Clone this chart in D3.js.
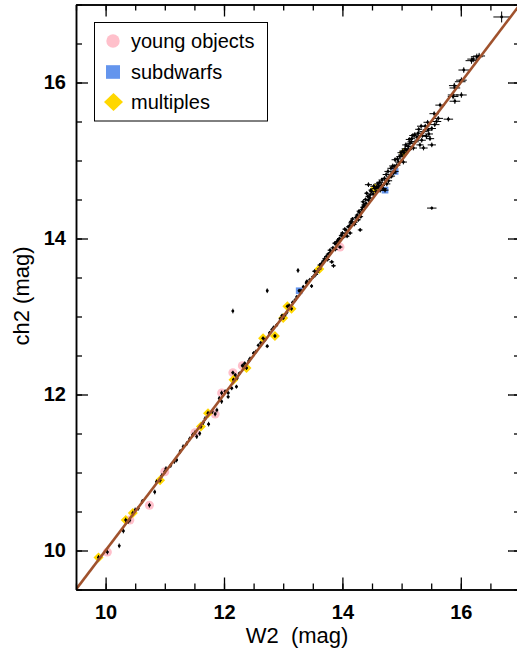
<!DOCTYPE html>
<html>
<head>
<meta charset="utf-8">
<script src="https://cdn.jsdelivr.net/npm/d3@7"></script>
<style>
  html, body { margin: 0; padding: 0; background: #fff; }
  svg { display: block; }
  text { font-family: "Liberation Sans", Arial, Helvetica, sans-serif; fill: #000; }
</style>
</head>
<body>
<svg id="chart" width="517" height="656"></svg>
<script>
// W2 vs ch2 photometry, each row: [W2, ch2, W2 error, ch2 error]
const field = [
  [10.23,10.06,0.02,0.03],[10.30,10.25,0.02,0.03],[10.38,10.37,0.02,0.03],[10.50,10.52,0.02,0.03],
  [10.55,10.54,0.02,0.03],[10.62,10.63,0.02,0.03],[10.83,10.75,0.02,0.03],[10.86,10.88,0.02,0.03],
  [10.95,10.96,0.02,0.03],[11.02,11.05,0.02,0.03],[11.10,11.09,0.02,0.03],[11.16,11.14,0.02,0.03],
  [11.20,11.16,0.02,0.03],[11.26,11.27,0.02,0.03],[11.31,11.33,0.02,0.03],[11.37,11.37,0.02,0.03],
  [11.42,11.43,0.02,0.03],[11.47,11.48,0.02,0.03],[11.54,11.46,0.02,0.03],[11.59,11.50,0.02,0.03],
  [11.65,11.64,0.02,0.03],[11.68,11.69,0.02,0.03],[11.74,11.62,0.02,0.03],[11.80,11.78,0.02,0.03],
  [11.88,11.80,0.02,0.03],[11.92,11.95,0.02,0.03],[11.96,11.91,0.02,0.03],[12.02,12.04,0.025,0.025],
  [12.07,12.02,0.025,0.025],[12.07,11.97,0.025,0.025],[12.13,12.08,0.025,0.025],[12.21,12.10,0.025,0.025],
  [12.19,12.25,0.025,0.025],[12.22,12.21,0.025,0.025],[12.26,12.27,0.025,0.025],[12.32,12.37,0.025,0.025],
  [12.35,12.40,0.025,0.025],[12.42,12.43,0.025,0.025],[12.44,12.46,0.025,0.025],[12.50,12.53,0.025,0.025],
  [12.54,12.55,0.025,0.025],[12.58,12.63,0.025,0.025],[12.62,12.66,0.025,0.025],[12.69,12.70,0.025,0.025],
  [12.73,12.62,0.025,0.025],[12.77,12.79,0.025,0.025],[12.81,12.83,0.025,0.025],[12.84,12.86,0.025,0.025],
  [12.89,12.89,0.025,0.025],[12.95,12.97,0.025,0.025],[12.98,13.01,0.025,0.025],[13.03,13.02,0.025,0.025],
  [13.06,13.05,0.025,0.025],[13.10,13.14,0.025,0.025],[13.16,13.18,0.025,0.025],[13.20,13.21,0.025,0.025],
  [13.23,13.25,0.025,0.025],[13.30,13.33,0.025,0.025],[13.34,13.38,0.025,0.025],[13.39,13.43,0.025,0.025],
  [13.40,13.45,0.025,0.025],[13.45,13.47,0.025,0.025],[13.48,13.39,0.025,0.025],[13.51,13.51,0.04,0.025],
  [13.53,13.58,0.04,0.025],[13.55,13.54,0.04,0.025],[13.57,13.57,0.04,0.025],[13.62,13.66,0.04,0.025],
  [13.65,13.68,0.04,0.025],[13.68,13.71,0.04,0.025],[13.70,13.74,0.04,0.025],[13.73,13.77,0.04,0.025],
  [13.75,13.73,0.04,0.025],[13.76,13.80,0.04,0.025],[13.80,13.82,0.04,0.025],[13.82,13.70,0.04,0.025],
  [13.84,13.88,0.04,0.025],[13.85,13.65,0.04,0.025],[13.79,13.85,0.04,0.025],[13.87,13.94,0.04,0.025],
  [13.88,13.86,0.04,0.025],[13.90,13.92,0.04,0.025],[13.91,13.96,0.04,0.025],[13.93,13.98,0.04,0.025],
  [13.95,14.00,0.04,0.025],[13.98,14.04,0.04,0.025],[14.00,14.07,0.04,0.025],[14.02,14.02,0.04,0.025],
  [14.04,14.12,0.04,0.025],[14.05,14.06,0.04,0.025],[14.07,14.10,0.04,0.025],[14.08,14.03,0.04,0.025],
  [14.10,14.15,0.04,0.025],[14.12,14.16,0.04,0.025],[14.13,14.07,0.04,0.025],[14.14,14.20,0.04,0.025],
  [14.15,14.22,0.04,0.025],[14.17,14.25,0.04,0.025],[14.18,14.19,0.04,0.025],[14.20,14.18,0.04,0.025],
  [14.22,14.21,0.04,0.025],[14.30,14.11,0.04,0.025],[14.27,14.24,0.04,0.025],[14.23,14.27,0.04,0.025],
  [14.25,14.30,0.04,0.025],[14.28,14.35,0.04,0.025],[14.29,14.33,0.04,0.025],[14.31,14.28,0.04,0.025],
  [14.33,14.37,0.04,0.025],[14.34,14.40,0.04,0.025],[14.36,14.43,0.04,0.025],[14.38,14.41,0.04,0.025],
  [14.35,14.47,0.04,0.025],[14.39,14.50,0.04,0.025],[14.40,14.45,0.04,0.025],[14.43,14.54,0.04,0.025],
  [14.44,14.49,0.04,0.025],[14.41,14.58,0.04,0.025],[14.46,14.52,0.04,0.025],[14.47,14.56,0.04,0.025],
  [14.48,14.62,0.04,0.025],[14.49,14.60,0.04,0.025],[14.52,14.57,0.06,0.03],[14.53,14.67,0.06,0.03],
  [14.57,14.60,0.06,0.03],[14.58,14.66,0.06,0.03],[14.60,14.70,0.06,0.03],[14.61,14.66,0.06,0.03],
  [14.63,14.72,0.06,0.03],[14.64,14.62,0.06,0.03],[14.66,14.68,0.06,0.03],[14.67,14.75,0.06,0.03],
  [14.69,14.64,0.06,0.03],[14.71,14.77,0.06,0.03],[14.44,14.69,0.06,0.03],[14.74,14.82,0.06,0.03],
  [14.75,14.70,0.06,0.03],[14.77,14.86,0.06,0.03],[14.78,14.74,0.06,0.03],[14.80,14.79,0.06,0.03],
  [14.82,14.90,0.06,0.03],[14.83,14.80,0.06,0.03],[14.85,14.93,0.06,0.03],[14.86,14.84,0.06,0.03],
  [14.88,14.92,0.06,0.03],[14.92,14.94,0.06,0.03],[14.89,15.01,0.06,0.03],[14.93,15.02,0.06,0.03],
  [14.95,14.98,0.06,0.03],[14.97,15.05,0.06,0.03],[14.99,15.10,0.06,0.03],[15.00,15.07,0.06,0.03],
  [15.02,15.12,0.06,0.03],[15.03,14.98,0.06,0.03],[15.06,15.15,0.06,0.03],[15.07,15.20,0.06,0.03],
  [15.09,15.13,0.06,0.03],[15.12,15.14,0.06,0.03],[15.13,15.27,0.06,0.03],[15.14,15.22,0.06,0.03],
  [15.11,15.18,0.06,0.03],[15.16,15.24,0.06,0.03],[15.17,15.28,0.06,0.03],[15.19,15.32,0.06,0.03],
  [15.20,15.16,0.06,0.03],[15.22,15.33,0.06,0.03],[15.23,15.24,0.06,0.03],[15.26,15.30,0.06,0.03],
  [15.28,15.35,0.06,0.03],[15.29,15.40,0.06,0.03],[15.31,15.20,0.06,0.03],[15.33,15.44,0.07,0.03],
  [15.35,15.32,0.07,0.03],[15.37,15.16,0.07,0.03],[15.34,15.26,0.07,0.03],[15.37,15.37,0.07,0.03],
  [15.40,15.44,0.07,0.03],[15.42,15.31,0.07,0.03],[15.44,15.49,0.07,0.03],[15.46,15.34,0.07,0.03],
  [15.48,15.28,0.07,0.03],[15.51,15.20,0.07,0.03],[15.45,15.39,0.07,0.03],[15.51,15.41,0.07,0.03],
  [15.55,15.60,0.08,0.03],[15.56,15.46,0.08,0.03],[15.59,15.50,0.08,0.03],[15.62,15.54,0.08,0.03],
  [15.79,15.53,0.08,0.03],[15.65,15.71,0.08,0.03],[15.87,15.84,0.09,0.035],[15.51,14.39,0.08,0.02],
  [15.89,15.96,0.09,0.035],[15.90,15.93,0.09,0.035],[16.01,15.84,0.09,0.035],[15.87,15.82,0.09,0.035],
  [15.90,15.76,0.09,0.035],[16.01,16.03,0.09,0.035],[15.99,16.01,0.09,0.035],[16.05,16.16,0.09,0.035],
  [16.18,16.28,0.1,0.04],[16.21,16.30,0.1,0.04],[16.27,16.33,0.1,0.04],[16.31,16.34,0.1,0.04],
  [16.69,16.84,0.14,0.07],
  [12.15,13.07,0.02,0.03],[12.73,13.33,0.02,0.03],[13.25,13.59,0.02,0.03]
];

const young = [
  [10.03,9.98,0.02,0.03],[10.41,10.39,0.02,0.03],[10.74,10.58,0.02,0.03],[11.00,11.01,0.02,0.03],
  [11.51,11.51,0.02,0.03],[11.85,11.75,0.02,0.03],[11.96,12.02,0.02,0.03],[12.15,12.28,0.025,0.025],
  [12.31,12.37,0.025,0.025],[13.96,13.89,0.04,0.025]
];

const subdwarfs = [
  [13.27,13.33,0.025,0.025],[14.72,14.62,0.06,0.03],[14.89,14.86,0.06,0.03]
];

const multiples = [
  [9.88,9.91,0.02,0.03],[10.34,10.39,0.02,0.03],[10.46,10.48,0.02,0.03],[10.92,10.90,0.02,0.03],
  [11.61,11.59,0.02,0.03],[11.73,11.76,0.02,0.03],[12.16,12.19,0.025,0.025],[12.38,12.34,0.025,0.025],
  [12.66,12.72,0.025,0.025],[12.86,12.75,0.025,0.025],[13.00,12.98,0.025,0.025],[13.07,13.13,0.025,0.025],
  [13.14,13.10,0.025,0.025],[13.61,13.61,0.04,0.025],[14.55,14.64,0.06,0.03],[15.04,15.10,0.06,0.03]
];

const majorTicks = [10, 12, 14, 16];
const minorTicks = [9.5,10,10.5,11,11.5,12,12.5,13,13.5,14,14.5,15,15.5,16,16.5,17];
const axisRange = [9.5, 17];
const legendItems = ["young objects", "subdwarfs", "multiples"];

const svg = d3.select("#chart");
const plotLeft = 76, plotRight = 520, plotTop = 4.5, plotBottom = 589.5;

const x = d3.scaleLinear().domain(axisRange).range([plotLeft, plotRight]);
const y = d3.scaleLinear().domain(axisRange).range([plotBottom, plotTop]);

svg.append("clipPath").attr("id", "plotclip")
  .append("rect").attr("x", plotLeft).attr("y", plotTop)
  .attr("width", plotRight - plotLeft).attr("height", plotBottom - plotTop);
const marks = svg.append("g").attr("clip-path", "url(#plotclip)");

// coloured markers for the special classes sit beneath the data points
marks.append("g").selectAll("circle").data(young).join("circle")
  .attr("cx", d => x(d[0])).attr("cy", d => y(d[1])).attr("r", 4.5)
  .attr("fill", "#ffc0cb");
marks.append("g").selectAll("path").data(multiples).join("path")
  .attr("transform", d => `translate(${x(d[0])},${y(d[1])}) rotate(45)`)
  .attr("d", d3.symbol().type(d3.symbolSquare).size(50)())
  .attr("fill", "#ffd700");
marks.append("g").selectAll("path").data(subdwarfs).join("path")
  .attr("transform", d => `translate(${x(d[0])},${y(d[1])})`)
  .attr("d", d3.symbol().type(d3.symbolSquare).size(45)())
  .attr("fill", "#6495ed");

// every object gets a black point with error bars
const all = field.concat(young, subdwarfs, multiples);
const pts = marks.append("g").attr("stroke", "#000").attr("stroke-width", 1);
pts.selectAll("line.ex").data(all).join("line").attr("class", "ex")
  .attr("x1", d => x(d[0] - d[2])).attr("x2", d => x(d[0] + d[2]))
  .attr("y1", d => y(d[1])).attr("y2", d => y(d[1]));
pts.selectAll("line.ey").data(all).join("line").attr("class", "ey")
  .attr("x1", d => x(d[0])).attr("x2", d => x(d[0]))
  .attr("y1", d => y(d[1] - d[3])).attr("y2", d => y(d[1] + d[3]));
marks.append("g").selectAll("circle").data(all).join("circle")
  .attr("cx", d => x(d[0])).attr("cy", d => y(d[1])).attr("r", 1.4)
  .attr("fill", "#000");

// one-to-one relation
marks.append("line")
  .attr("x1", x(axisRange[0])).attr("y1", y(axisRange[0]))
  .attr("x2", x(axisRange[1])).attr("y2", y(axisRange[1]))
  .attr("stroke", "#a0522d").attr("stroke-width", 2.6);

// axes: inward ticks on all four sides
function styleAxis(g) {
  g.selectAll(".domain").attr("stroke", "#000").attr("stroke-width", 1.5);
  g.selectAll(".tick line").attr("stroke", "#000").attr("stroke-width", 1.3);
  g.selectAll("text").attr("font-size", 20).attr("font-weight", "bold")
    .attr("font-family", "'Liberation Sans', Arial, sans-serif").attr("fill", "#000");
}
const fmt = d3.format("d");
svg.append("g").attr("transform", `translate(0,${plotBottom})`)
  .call(d3.axisBottom(x).tickValues(minorTicks).tickSize(-6).tickFormat("").tickSizeOuter(0)).call(styleAxis);
svg.append("g").attr("transform", `translate(0,${plotBottom})`)
  .call(d3.axisBottom(x).tickValues(majorTicks).tickSize(-12).tickPadding(15).tickFormat(fmt).tickSizeOuter(0)).call(styleAxis);
svg.append("g").attr("transform", `translate(0,${plotTop})`)
  .call(d3.axisTop(x).tickValues(minorTicks).tickSize(-6).tickFormat("").tickSizeOuter(0)).call(styleAxis);
svg.append("g").attr("transform", `translate(0,${plotTop})`)
  .call(d3.axisTop(x).tickValues(majorTicks).tickSize(-12).tickFormat("").tickSizeOuter(0)).call(styleAxis);
svg.append("g").attr("transform", `translate(${plotLeft},0)`)
  .call(d3.axisLeft(y).tickValues(minorTicks).tickSize(-6).tickFormat("").tickSizeOuter(0)).call(styleAxis);
svg.append("g").attr("transform", `translate(${plotLeft},0)`)
  .call(d3.axisLeft(y).tickValues(majorTicks).tickSize(-12).tickPadding(10).tickFormat(fmt).tickSizeOuter(0)).call(styleAxis);
svg.append("g").attr("transform", `translate(${plotRight},0)`)
  .call(d3.axisRight(y).tickValues(minorTicks).tickSize(-6).tickFormat("").tickSizeOuter(0)).call(styleAxis);
svg.append("g").attr("transform", `translate(${plotRight},0)`)
  .call(d3.axisRight(y).tickValues(majorTicks).tickSize(-12).tickFormat("").tickSizeOuter(0)).call(styleAxis);

// axis titles
svg.append("text").attr("x", 297).attr("y", 643).attr("text-anchor", "middle")
  .attr("font-size", 22).style("white-space", "pre").text("W2  (mag)");
svg.append("text").attr("transform", "translate(29,296) rotate(-90)").attr("text-anchor", "middle")
  .attr("font-size", 22).text("ch2 (mag)");

// legend
const lg = svg.append("g");
lg.append("rect").attr("x", 94.5).attr("y", 22.5).attr("width", 173).attr("height", 98.5)
  .attr("fill", "#fff").attr("stroke", "#000").attr("stroke-width", 1);
const rowY = [41, 72, 102];
lg.append("circle").attr("cx", 113).attr("cy", rowY[0]).attr("r", 6.7).attr("fill", "#ffc0cb");
lg.append("rect").attr("x", 106).attr("y", rowY[1] - 6.8).attr("width", 14).attr("height", 13.6).attr("fill", "#6495ed");
lg.append("path").attr("transform", `translate(113.5,${rowY[2]})`)
  .attr("d", "M0,-9L9.5,0L0,9L-9.5,0Z").attr("fill", "#ffd700");
lg.selectAll("text.lab").data(legendItems).join("text").attr("class", "lab")
  .attr("x", 131).attr("y", (d, i) => rowY[i] + 6.5).attr("font-size", 20).text(d => d);
</script>
</body>
</html>
